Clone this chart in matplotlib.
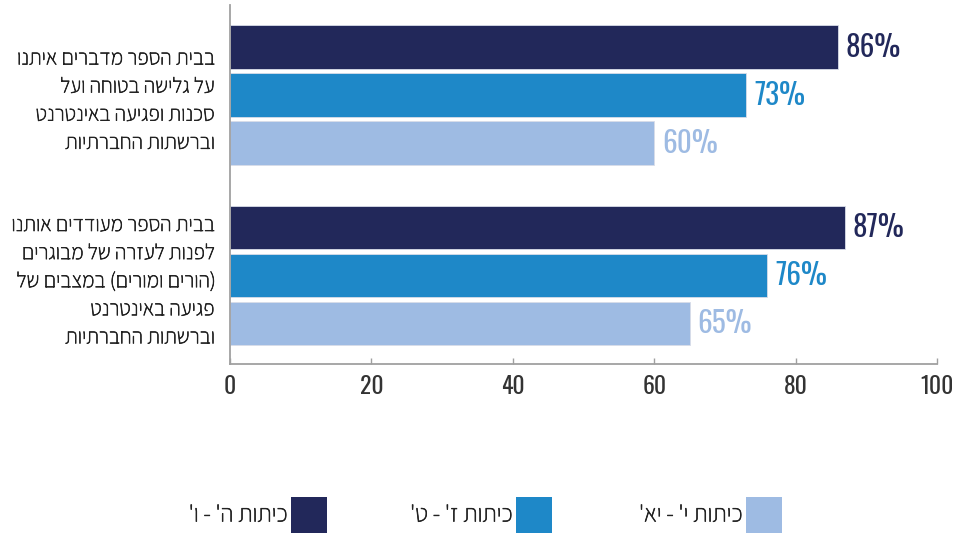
import matplotlib
matplotlib.use("Agg")
import matplotlib.pyplot as plt
from matplotlib.patches import Rectangle
from matplotlib import font_manager as fm
import matplotlib.patheffects as pe
import numpy as np

# ---- data ----
categories = [
    "בבית הספר מדברים איתנו\nעל גלישה בטוחה ועל\nסכנות ופגיעה באינטרנט\nוברשתות החברתיות",
    "בבית הספר מעודדים אותנו\nלפנות לעזרה של מבוגרים\n(הורים ומורים) במצבים של\nפגיעה באינטרנט\nוברשתות החברתיות",
]
series_names = ["כיתות ה' - ו'", "כיתות ז' - ט'", "כיתות י' - יא'"]
values_56 = [86, 87]
values_79 = [73, 76]
values_1011 = [60, 65]
x_ticks = [0, 20, 40, 60, 80, 100]

colors = ["#22285A", "#1E88C8", "#9EBBE3"]

avail = {f.name for f in fm.fontManager.ttflist}


def pick(cands):
    return [c for c in cands if c in avail] + ["DejaVu Sans"]


NUM_FONT = pick(["Oswald", "Roboto Condensed", "Liberation Sans"])
HEB_FONT = pick(["Assistant", "Heebo", "Liberation Sans"])
plt.rcParams["font.family"] = HEB_FONT
thick = [pe.withStroke(linewidth=0.5, foreground="#222222")]


def rtl(s):
    """Reverse a Hebrew line for left-to-right rendering, mirroring brackets."""
    out = []
    for line in s.split("\n"):
        r = line[::-1]
        r = r.translate(str.maketrans("()", ")("))
        out.append(r)
    return "\n".join(out)


fig = plt.figure(figsize=(9.55, 5.35), dpi=100)
W, H = 955, 535
ax = fig.add_axes([230 / W, (H - 364) / H, (937 - 230) / W, (364 - 5) / H])

series = [values_56, values_79, values_1011]
group_pos = np.array([0.0, 3.76])
offsets = [-1, 0, 1]
bar_h = 0.9

for vals, off, col in zip(series, offsets, colors):
    y = group_pos + off
    ax.barh(y, vals, height=bar_h, color=col, edgecolor="#d8dde8", linewidth=0.6)
    for yy, v in zip(y, vals):
        ax.text(v + 1.1, yy, f"{v}%", va="center", ha="left", color=col,
                fontsize=21, family=NUM_FONT, fontweight="bold")

ax.set_xlim(0, 100)
ax.set_ylim(5.6, -1.875)
ax.set_xticks(x_ticks)
ax.set_xticklabels([str(t) for t in x_ticks], fontsize=17, color="#333333",
                   family=NUM_FONT)
ax.tick_params(axis="x", direction="in", length=4, width=1, color="#a0a0a0", pad=8)
ax.set_yticks(group_pos)
ax.set_yticklabels([rtl(c) for c in categories], fontsize=15.5, color="#222222",
                   linespacing=1.4)
for lbl in ax.get_yticklabels():
    lbl.set_path_effects(thick)
ax.tick_params(axis="y", length=0, pad=11)
for s in ["top", "right"]:
    ax.spines[s].set_visible(False)
for s in ["left", "bottom"]:
    ax.spines[s].set_color("#a0a0a0")
    ax.spines[s].set_linewidth(1.3)

# legend (custom, right-to-left style: text left of square)
legend_sq_left = [291, 516, 746]
sq_w, sq_h = 36, 36
sq_top = 497
for name, col, xl in zip(series_names, colors, legend_sq_left):
    fig.add_artist(Rectangle((xl / W, (H - sq_top - sq_h) / H), sq_w / W, sq_h / H,
                             transform=fig.transFigure, facecolor=col,
                             edgecolor="none"))
    fig.text((xl - 3) / W, (H - sq_top - sq_h / 2) / H, rtl(name), ha="right",
             va="center", fontsize=17.5, color="#222222", path_effects=thick)

fig.savefig("out.png", dpi=100)
